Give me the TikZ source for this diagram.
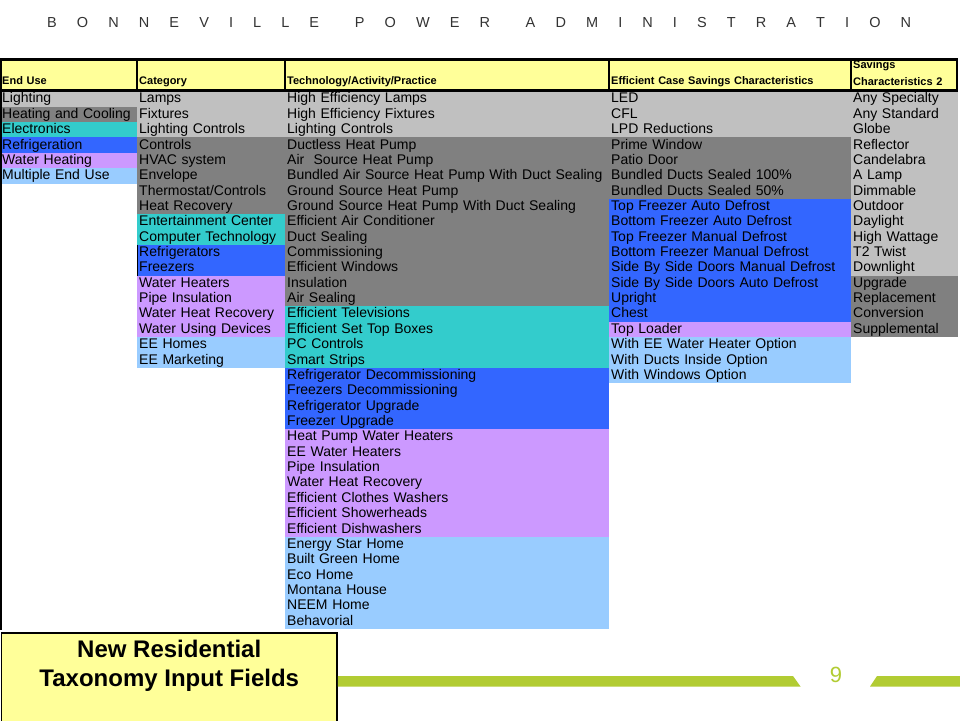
\documentclass[tikz,border=0pt]{standalone}
\usepackage{fontspec}
\setmainfont{Liberation Sans}
\usetikzlibrary{positioning,calc}

\definecolor{lg}{HTML}{C0C0C0}
\definecolor{dg}{HTML}{808080}
\definecolor{tl}{HTML}{33CCCC}
\definecolor{bl}{HTML}{3366FF}
\definecolor{lv}{HTML}{CC99FF}
\definecolor{lb}{HTML}{99CCFF}
\definecolor{hdyellow}{HTML}{FFFF99}
\definecolor{bpagreen}{RGB}{178,204,51}

\newcommand{\lgap}{\hspace{20.1pt}}
\newcommand{\wgap}{\hspace{35.7pt}}

\begin{document}
\begin{tikzpicture}[x=1pt,y=-1pt,
	cell/.style={anchor=north west,inner xsep=2pt,inner ysep=0pt,text width=#1,align=left,minimum height=15.5pt,text height=10.5pt,text depth=2.5pt,font=\fontsize{14}{15}\selectfont},
	hdcell/.style={anchor=north west,fill=hdyellow,inner xsep=2pt,inner ysep=0pt,text width=#1,align=left,minimum height=31pt,text height=20pt,text depth=1pt,font=\bfseries\fontsize{11}{17}\selectfont}]
	\useasboundingbox[fill=white] (0,0) rectangle (960,720);
	
	\node[anchor=base west,inner sep=0pt,text=black!80,font=\fontsize{14.5}{15}\selectfont] (bpa) at (47,27.3) {B\lgap O\lgap N\lgap N\lgap E\lgap V\lgap I\lgap L\lgap L\lgap E\wgap P\lgap O\lgap W\lgap E\lgap R\wgap A\lgap D\lgap M\lgap I\lgap N\lgap I\lgap S\lgap T\lgap R\lgap A\lgap T\lgap I\lgap O\lgap N};
	
	% header row
	\node[hdcell=133pt] (hEnd) at (0,59.5) {End Use};
	\node[hdcell=144pt] (hCat) at (137,59.5) {Category};
	\node[hdcell=320pt] (hTech) at (285,59.5) {Technology/Activity/Practice};
	\node[hdcell=238pt] (hEff) at (609,59.5) {Efficient Case Savings Characteristics};
	\node[hdcell=103pt,text height=8pt,text depth=22pt] (hSav) at (851,59.5) {Savings\\Characteristics 2};
	
	% columns
	\foreach \c/\t [count=\i] in {lg/Lighting,dg/Heating and Cooling,tl/Electronics,bl/Refrigeration,lv/Water Heating,lb/Multiple End Use}
		\node[cell=133pt,fill=\c] (eu\i) at (0,{91+(\i-1)*15.36}) {\t};
	\foreach \c/\t [count=\i] in {lg/Lamps,lg/Fixtures,lg/Lighting Controls,dg/Controls,dg/HVAC system,dg/Envelope,dg/{Thermostat/Controls},dg/Heat Recovery,tl/Entertainment Center,tl/Computer Technology,bl/Refrigerators,bl/Freezers,lv/Water Heaters,lv/Pipe Insulation,lv/Water Heat Recovery,lv/Water Using Devices,lb/EE Homes,lb/EE Marketing}
		\node[cell=144pt,fill=\c] (cat\i) at (137,{91+(\i-1)*15.36}) {\t};
	\foreach \c/\t [count=\i] in {lg/High Efficiency Lamps,lg/High Efficiency Fixtures,lg/Lighting Controls,dg/Ductless Heat Pump,dg/Air\ \ Source Heat Pump,dg/Bundled Air Source Heat Pump With Duct Sealing,dg/Ground Source Heat Pump,dg/Ground Source Heat Pump With Duct Sealing,dg/Efficient Air Conditioner,dg/Duct Sealing,dg/Commissioning,dg/Efficient Windows,dg/Insulation,dg/Air Sealing,tl/Efficient Televisions,tl/Efficient Set Top Boxes,tl/PC Controls,tl/Smart Strips,bl/Refrigerator Decommissioning,bl/Freezers Decommissioning,bl/Refrigerator Upgrade,bl/Freezer Upgrade,lv/Heat Pump Water Heaters,lv/EE Water Heaters,lv/Pipe Insulation,lv/Water Heat Recovery,lv/Efficient Clothes Washers,lv/Efficient Showerheads,lv/Efficient Dishwashers,lb/Energy Star Home,lb/Built Green Home,lb/Eco Home,lb/Montana House,lb/NEEM Home,lb/Behavorial}
		\node[cell=320pt,fill=\c] (tech\i) at (285,{91+(\i-1)*15.36}) {\t};
	\foreach \c/\t [count=\i] in {lg/LED,lg/CFL,lg/LPD Reductions,dg/Prime Window,dg/Patio Door,dg/Bundled Ducts Sealed 100\%,dg/Bundled Ducts Sealed 50\%,bl/Top Freezer Auto Defrost,bl/Bottom Freezer Auto Defrost,bl/Top Freezer Manual Defrost,bl/Bottom Freezer Manual Defrost,bl/Side By Side Doors Manual Defrost,bl/Side By Side Doors Auto Defrost,bl/Upright,bl/Chest,lv/Top Loader,lb/With EE Water Heater Option,lb/With Ducts Inside Option,lb/With Windows Option}
		\node[cell=238pt,fill=\c] (eff\i) at (609,{91+(\i-1)*15.36}) {\t};
	\foreach \c/\t [count=\i] in {lg/Any Specialty,lg/Any Standard,lg/Globe,lg/Reflector,lg/Candelabra,lg/A Lamp,lg/Dimmable,lg/Outdoor,lg/Daylight,lg/High Wattage,lg/T2 Twist,lg/Downlight,dg/Upgrade,dg/Replacement,dg/Conversion,dg/Supplemental}
		\node[cell=103pt,fill=\c] (sav\i) at (851,{91+(\i-1)*15.36}) {\t};
	
	% borders
	\coordinate (lb) at (1,630);
	\draw[line width=2.5pt] (hEnd.north west) -- (hSav.north east);
	\draw[line width=3pt] (hEnd.south west) -- (hSav.south east);
	\draw[line width=1.5pt] (hCat.north west) -- (hCat.south west);
	\draw[line width=1.5pt] (hTech.north west) -- (hTech.south west);
	\draw[line width=1.5pt] (hEff.north west) -- (hEff.south west);
	\draw[line width=1.5pt] (hSav.north west) -- (hSav.south west);
	\draw[line width=2pt] ([xshift=-1pt]hSav.north east) -- ([xshift=-1pt]hSav.south east);
	\draw[line width=2pt] ([xshift=1pt]hEnd.north west) -- (lb);
	\draw[line width=1pt] (cat11.north west) -- (cat12.south west);
	
	% footer
	\node[draw,line width=1.5pt,fill=hdyellow,anchor=north west,minimum width=335.5pt,minimum height=95pt] (tbox) at (0.75,632) {};
	\node[below=7.5pt of tbox.north,inner sep=0pt,align=center,font=\bfseries\fontsize{24}{29}\selectfont] (ttl) {New Residential\\Taxonomy Input Fields};
	\fill[bpagreen] (tbox.east |- 0,676) -- (793,676) -- (800.5,686.5) -- (tbox.east |- 0,686.5) -- cycle;
	\fill[bpagreen] (877,676) -- (960,676) -- (960,686.5) -- (870,686.5) -- cycle;
	\node[text=bpagreen,inner sep=0pt,font=\fontsize{22}{22}\selectfont] (pgnum) at (836,675) {9};
\end{tikzpicture}
\end{document}
